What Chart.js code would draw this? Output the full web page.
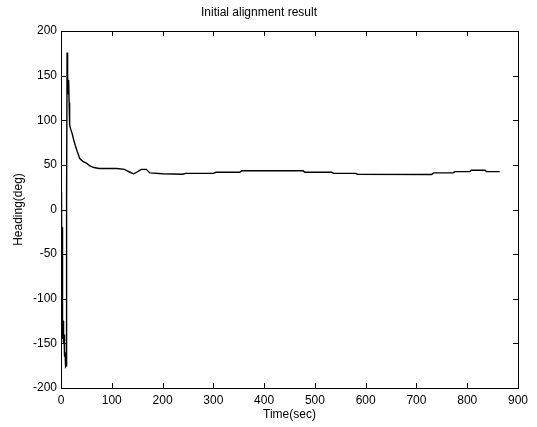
<!DOCTYPE html>
<html>
<head>
<meta charset="utf-8">
<script src="https://cdn.jsdelivr.net/npm/chart.js@4.4.1/dist/chart.umd.min.js"></script>
<style>
  html, body { margin: 0; padding: 0; background: #fff; }
  #c { display: block; }
</style>
</head>
<body>
<canvas id="c" width="537" height="427"></canvas>
<script>
// time (sec) and heading (deg)
const times = [0, 0.5, 1, 1.5, 2, 2.5, 3, 3.5, 4, 5, 6, 7, 8, 9, 10, 11, 12, 13, 14, 15, 16, 17,
  19, 22, 25, 28, 32, 37, 43, 50, 57, 65, 75, 90, 110, 125, 135, 143, 150, 158,
  168, 175, 200, 240, 245, 300, 305, 352, 356, 477, 480, 533, 537, 580, 584,
  730, 734, 772, 776, 805, 808, 835, 838, 864];
const heading = [20, -60, -130, 10, -120, -20, -145, -125, -125, -150, -140, -165, -160, -176, -175, 10, 176, 150, 130, 145, 120, 95,
  90, 85, 78, 72, 65, 57, 54, 52, 49, 47, 46, 46, 46, 45, 42, 40, 42, 45,
  45, 41, 40, 39.5, 40.5, 40.5, 41.7, 41.7, 43.5, 43.5, 41.7, 41.7, 40.5, 40.5, 39.5,
  39.3, 41, 41, 42.4, 42.4, 44, 44, 42.4, 42.4];

const xTicks = [0, 100, 200, 300, 400, 500, 600, 700, 800, 900];
const yTicks = [-200, -150, -100, -50, 0, 50, 100, 150, 200];

const font = "'Liberation Sans', Arial, Helvetica, sans-serif";

// matlab style box with inward ticks on all four sides
const boxTicks = {
  id: "boxTicks",
  afterDraw(chart) {
    const { ctx, chartArea: a, scales } = chart;
    const len = 5;
    ctx.save();
    ctx.strokeStyle = "#000";
    ctx.lineWidth = 1;
    ctx.strokeRect(a.left + 0.5, a.top + 0.5, a.right - a.left, a.bottom - a.top);
    ctx.beginPath();
    xTicks.forEach(v => {
      const x = Math.round(scales.x.getPixelForValue(v)) + 0.5;
      ctx.moveTo(x, a.bottom); ctx.lineTo(x, a.bottom - len);
      ctx.moveTo(x, a.top); ctx.lineTo(x, a.top + len);
    });
    yTicks.forEach(v => {
      const y = Math.round(scales.y.getPixelForValue(v)) + 0.5;
      ctx.moveTo(a.left, y); ctx.lineTo(a.left + len, y);
      ctx.moveTo(a.right, y); ctx.lineTo(a.right - len, y);
    });
    ctx.stroke();
    ctx.restore();
  }
};

new Chart(document.getElementById("c"), {
  type: "line",
  data: {
    datasets: [{
      data: times.map((t, i) => ({ x: t, y: heading[i] })),
      borderColor: "#000",
      borderWidth: 1.4,
      pointRadius: 0,
      tension: 0,
    }]
  },
  options: {
    responsive: false,
    animation: false,
    layout: { padding: { left: 0, right: 19, top: 0, bottom: 0 } },
    plugins: {
      legend: { display: false },
      tooltip: { enabled: false },
      title: {
        display: true,
        text: "Initial alignment result",
        color: "#000",
        font: { family: font, size: 12, weight: "normal" },
        padding: { top: 5, bottom: 11.6 }
      }
    },
    scales: {
      x: {
        type: "linear",
        min: 0, max: 900,
        afterBuildTicks: (s) => { s.ticks = xTicks.map(v => ({ value: v })); },
        afterFit: (s) => { s.height = 39; },
        grid: { display: false, drawTicks: false },
        border: { display: false },
        ticks: { color: "#000", padding: 5, maxRotation: 0, font: { family: font, size: 12 } },
        title: {
          display: true, text: "Time(sec)", color: "#000",
          font: { family: font, size: 12 }, padding: { top: 0, bottom: 5 }
        }
      },
      y: {
        min: -200, max: 200,
        afterBuildTicks: (s) => { s.ticks = yTicks.map(v => ({ value: v })); },
        afterFit: (s) => { s.width = 61; },
        grid: { display: false, drawTicks: false },
        border: { display: false },
        ticks: { color: "#000", padding: 4, font: { family: font, size: 12 } },
        title: {
          display: true, text: "Heading(deg)", color: "#000",
          font: { family: font, size: 12 }, padding: { top: 11, bottom: 0 }
        }
      }
    }
  },
  plugins: [boxTicks]
});
</script>
</body>
</html>
